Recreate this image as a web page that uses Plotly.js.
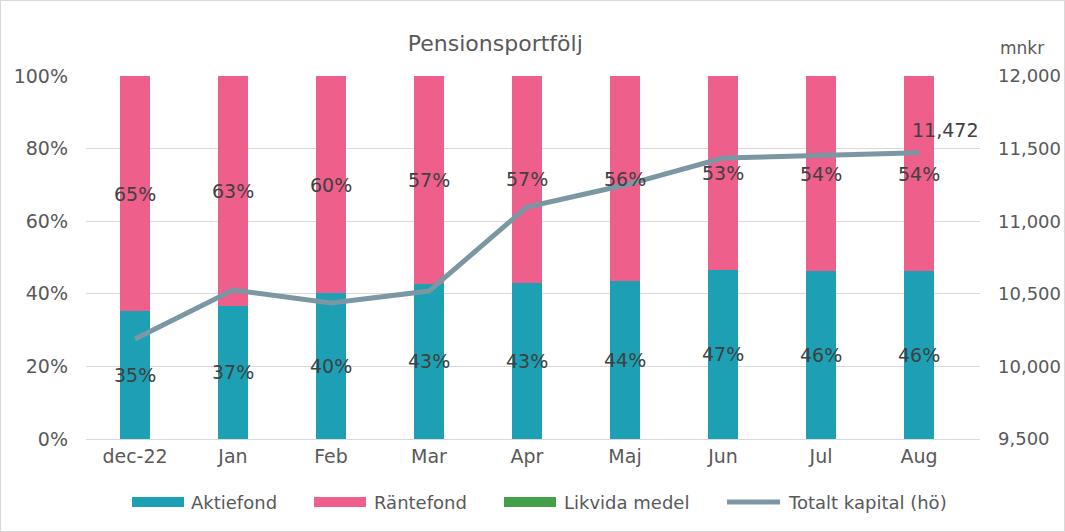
<!DOCTYPE html>
<html>
<head>
<meta charset="utf-8">
<script src="https://cdn.plot.ly/plotly-3.0.1.min.js"></script>
<style>
html,body{margin:0;padding:0;background:#fff;}
#chart{width:1065px;height:532px;box-sizing:border-box;border:1px solid #d9d9d9;}
</style>
</head>
<body>
<div id="chart"></div>
<script>
const categories = ['dec-22','Jan','Feb','Mar','Apr','Maj','Jun','Jul','Aug'];
const aktiefond = [35.2, 36.7, 40.2, 42.8, 43.1, 43.6, 46.6, 46.2, 46.2];
const rantefond = [64.7, 63.2, 59.7, 57.1, 56.8, 56.3, 53.3, 53.7, 53.7];
const likvida   = [0.1, 0.1, 0.1, 0.1, 0.1, 0.1, 0.1, 0.1, 0.1];
const totalt    = [10189, 10526, 10437, 10519, 11098, 11249, 11435, 11456, 11472];
const seriesNames = ['Aktiefond', 'Räntefond', 'Likvida medel', 'Totalt kapital (hö)'];

const FONT = 'DejaVu Sans, Verdana, sans-serif';
const TXT = '#595959';
const LBL = '#404040';
const COLORS = ['#1DA0B4', '#EE5F8B', '#43A047', '#7A97A3'];

const traces = [
  {type:'bar', name:seriesNames[0], x:categories, y:aktiefond, marker:{color:COLORS[0]}, hoverinfo:'skip'},
  {type:'bar', name:seriesNames[1], x:categories, y:rantefond, marker:{color:COLORS[1]}, hoverinfo:'skip'},
  {type:'bar', name:seriesNames[2], x:categories, y:likvida, marker:{color:COLORS[2]}, hoverinfo:'skip'},
  {type:'scatter', mode:'lines', name:seriesNames[3], x:categories, y:totalt, yaxis:'y2',
   line:{color:COLORS[3], width:5}, hoverinfo:'skip'}
];

const annotations = [];
categories.forEach((c,i)=>{
  annotations.push({x:c, y:aktiefond[i]/2, xref:'x', yref:'y', text:Math.round(aktiefond[i])+'%',
    showarrow:false, font:{family:FONT, size:19, color:LBL}});
  annotations.push({x:c, y:aktiefond[i]+rantefond[i]/2, xref:'x', yref:'y', text:Math.round(rantefond[i])+'%',
    showarrow:false, font:{family:FONT, size:19, color:LBL}});
});
const last = totalt.length-1;
annotations.push({x:categories[last], y:totalt[last], xref:'x', yref:'y2',
  text:totalt[last].toLocaleString('en-US'), showarrow:false, xshift:26, yshift:23,
  font:{family:FONT, size:19, color:LBL}});

// plot area in page pixels: x 86..980, y 76..439
const PX = X => (X - 86) / 894;
const PY = Y => (439 - Y) / 363;

annotations.push({xref:'paper', yref:'paper', x:PX(1022), y:PY(48), xanchor:'center', yanchor:'middle',
  text:'mnkr', showarrow:false, font:{family:FONT, size:17, color:TXT}});

// manual legend (layout only)
const shapes = [];
const legX = [132, 314, 504];
const legTextX = [189, 372, 562, 786];
const legY = 502;
for (let i = 0; i < 3; i++) {
  shapes.push({type:'rect', xref:'paper', yref:'paper', x0:PX(legX[i]), x1:PX(legX[i]+52), y0:PY(legY+5), y1:PY(legY-5),
    fillcolor:COLORS[i], line:{width:0}});
}
shapes.push({type:'line', xref:'paper', yref:'paper', x0:PX(727), x1:PX(780), y0:PY(legY), y1:PY(legY),
  line:{color:COLORS[3], width:5}});
for (let i = 0; i < 4; i++) {
  annotations.push({xref:'paper', yref:'paper', x:PX(legTextX[i]), y:PY(legY), xanchor:'left', yanchor:'middle',
    text:seriesNames[i], showarrow:false, font:{family:FONT, size:18, color:TXT}});
}

const layout = {
  width:1063, height:530,
  margin:{l:85, r:84, t:75, b:92},
  paper_bgcolor:'#fff', plot_bgcolor:'#fff',
  font:{family:FONT, size:19, color:TXT},
  title:{text:'Pensionsportfölj', x:0.465, xanchor:'center', y:0.921, yanchor:'middle', font:{family:FONT, size:22, color:TXT}},
  barmode:'stack', bargap:0.69,
  showlegend:false,
  xaxis:{type:'category', showgrid:false, showline:true, linecolor:'#d9d9d9', linewidth:1, ticks:'', tickfont:{family:FONT, size:19, color:TXT}, fixedrange:true},
  yaxis:{range:[0,100], dtick:20, ticksuffix:'%', showgrid:true, gridcolor:'#d9d9d9', gridwidth:1, zeroline:false, showline:false,
    tickfont:{family:FONT, size:19, color:TXT}, ticklabelstandoff:17, fixedrange:true},
  yaxis2:{overlaying:'y', side:'right', range:[9500,12000], dtick:500, tickformat:',d', showgrid:false, zeroline:false, showline:false,
    tickfont:{family:FONT, size:18, color:TXT}, ticklabelstandoff:17, fixedrange:true},
  shapes:shapes,
  annotations:annotations
};

Plotly.newPlot('chart', traces, layout, {displayModeBar:false, staticPlot:true});
</script>
</body>
</html>
